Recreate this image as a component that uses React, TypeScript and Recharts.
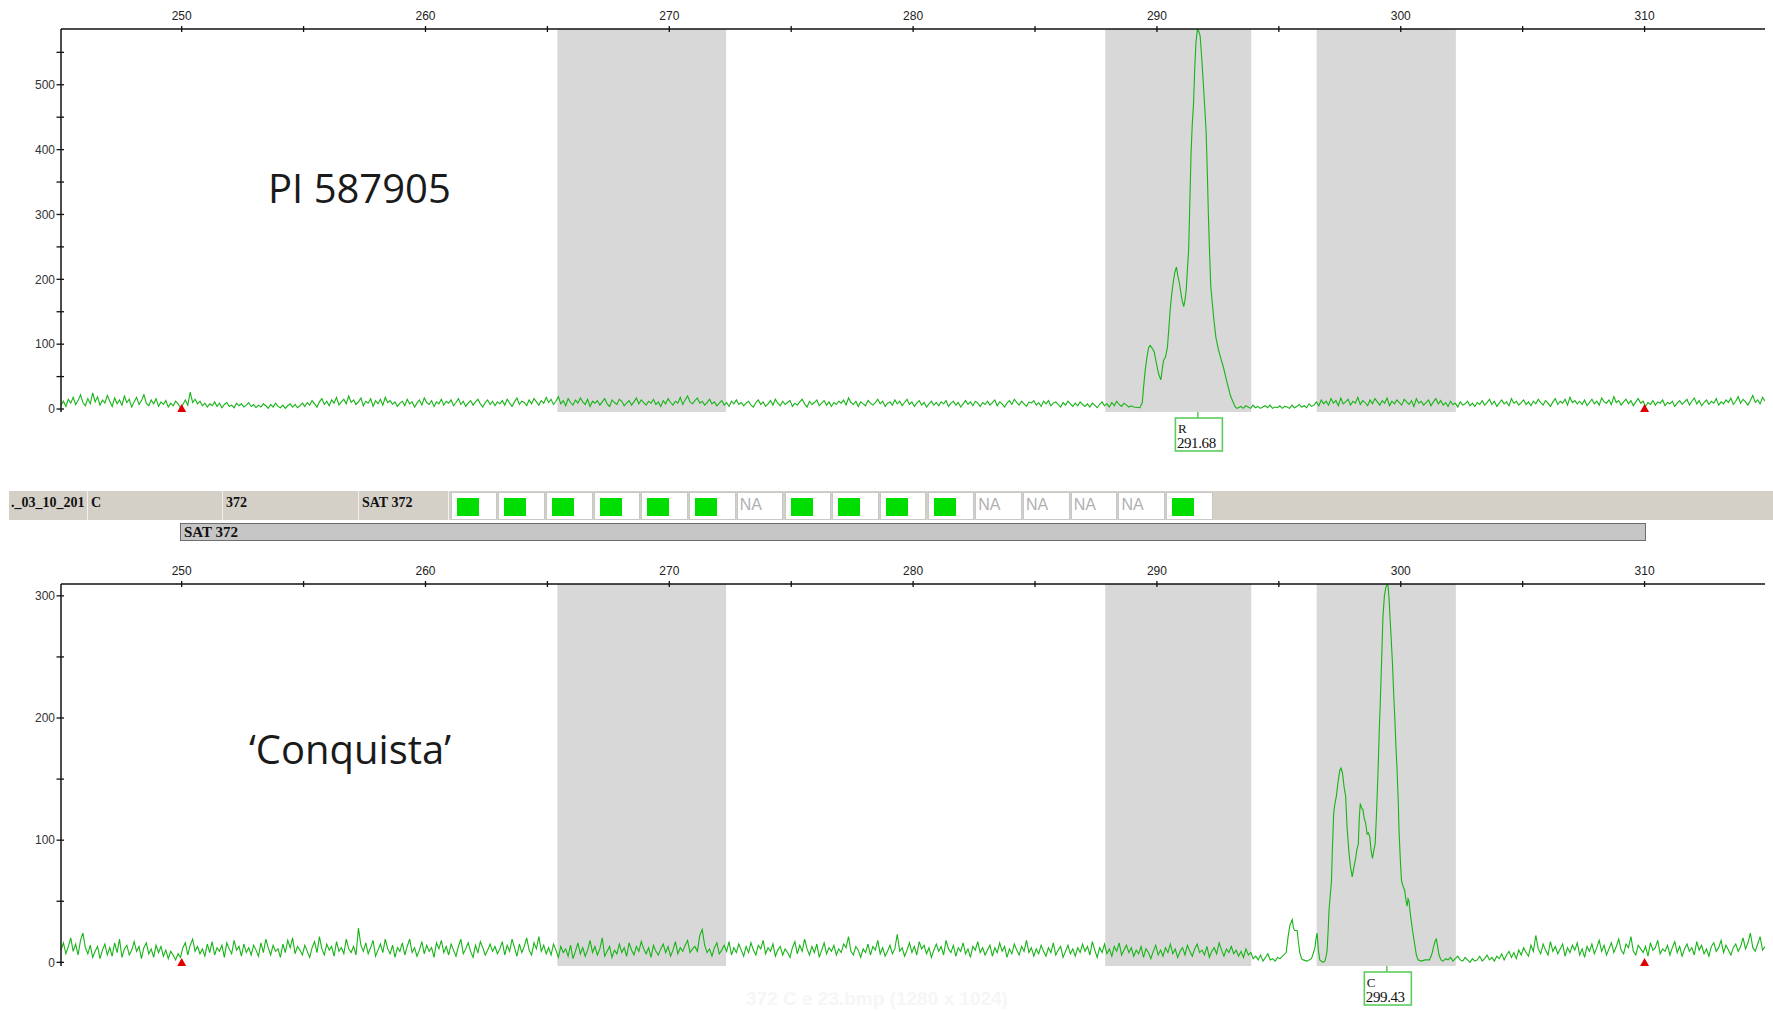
import React from 'react';
import { LineChart, Line, XAxis, YAxis, ReferenceArea, ReferenceDot } from 'recharts';

// ---------- data ----------
const X_MIN = 245.05;
const X_MAX = 314.94;
const STEP = 0.1;

const xTicks = [250, 255, 260, 265, 270, 275, 280, 285, 290, 295, 300, 305, 310];
const topYTicks = [0, 50, 100, 150, 200, 250, 300, 350, 400, 450, 500, 550];
const bottomYTicks = [0, 50, 100, 150, 200, 250, 300];
const TOP_Y_DOMAIN = [-4.6, 586];
const BOTTOM_Y_DOMAIN = [-3, 309.7];

const binBands = [
  [265.41, 272.33],
  [287.88, 293.87],
  [296.55, 302.26],
];
const sizeMarkers = [250, 310];

const topSample = 'PI 587905';
const bottomSample = '\u2018Conquista\u2019';
const topCall = { x: 291.68, allele: 'R', size: '291.68' };
const bottomCall = { x: 299.43, allele: 'C', size: '299.43' };

const stripLabels = ['._03_10_201', 'C', '372', 'SAT 372'];
const stripCalls = ['G', 'G', 'G', 'G', 'G', 'G', 'NA', 'G', 'G', 'G', 'G', 'NA', 'NA', 'NA', 'NA', 'G'];
const markerName = 'SAT 372';
const fileCaption = '372 C e 23.bmp (1280 x 1024)';

// top trace (PI 587905): baseline before the peak, every 0.1 from 245.05
const topNoiseA = [
  6, 12, 4, 15, 9, 18, 7, 13, 22, 10, 5, 16, 8, 25, 11, 19, 6, 14, 9, 21,
  12, 4, 17, 8, 14, 6, 20, 10, 15, 3, 11, 18, 7, 13, 22, 9, 5, 14, 8, 16,
  4, 11, 7, 13, 3, 9, 5, 12, 8, 2, 7, 14, 6, 26, 10, 15, 8, 12, 5, 9,
  3, 8, 5, 11, 4, 9, 2, 7, 10, 4, 6, 2, 9, 5, 8, 3, 6, 10, 4, 7,
  2, 6, 3, 8, 5, 1, 7, 3, 9, 4, 2, 6, 1, 5, 8, 3, 7, 2, 5, 9,
  4, 10, 6, 13, 8, 3, 11, 16, 7, 12, 5, 14, 9, 18, 6, 11, 15, 8, 20, 10,
  14, 7, 11, 17, 5, 12, 9, 16, 4, 13, 8, 15, 6, 18, 10, 13, 7, 11, 4, 9,
  12, 5, 15, 8, 11, 3, 9, 14, 6, 17, 10, 7, 13, 4, 11, 8, 15, 6, 12, 9,
  14, 5, 10, 16, 7, 12, 4, 9, 13, 6, 11, 15, 8, 3, 10, 14, 7, 12, 5, 11,
  8, 13, 6, 15, 9, 4, 11, 17, 7, 12, 10, 5, 14, 8, 16, 11, 6, 13, 9, 18,
  10, 15, 7, 12, 19, 8, 13, 5, 16, 10, 6, 14, 9, 17, 11, 7, 15, 4, 12, 9,
  13, 6, 11, 16, 8, 4, 14, 10, 7, 15, 12, 5, 9, 13, 6, 11, 17, 8, 14, 10,
  6, 12, 9, 15, 7, 11, 4, 13, 8, 16, 10, 6, 12, 9, 18, 7, 14, 20, 11, 8,
  13, 17, 9, 12, 6, 10, 15, 8, 11, 5, 9, 13, 6, 10, 4, 12, 8, 14, 7, 10,
  5, 9, 12, 6, 3, 10, 14, 7, 11, 4, 8, 13, 6, 15, 9, 5, 12, 7, 10, 13,
  4, 9, 6, 11, 15, 8, 3, 12, 7, 10, 14, 5, 9, 13, 6, 11, 4, 10, 7, 12,
  9, 14, 6, 17, 10, 7, 12, 4, 11, 8, 5, 13, 9, 6, 10, 15, 8, 12, 4, 9,
  11, 6, 14, 8, 12, 5, 10, 15, 7, 11, 4, 9, 13, 6, 10, 3, 8, 12, 6, 10,
  5, 11, 8, 13, 4, 9, 12, 6, 10, 3, 8, 13, 7, 11, 5, 12, 9, 4, 10, 7,
  12, 6, 10, 14, 5, 11, 8, 3, 9, 13, 7, 15, 10, 6, 12, 8, 4, 11, 9, 13,
  6, 10, 4, 12, 8, 13, 5, 9, 11, 7, 3, 10, 6, 12, 8, 4, 9, 5, 11, 7,
  4, 8, 3, 9, 6, 2, 7, 11, 5, 8, 3, 10, 5, 12, 7, 4, 9, 6, 3, 5,
  3,
];
const topPeak = [
  [289.3, 2], [289.4, 10], [289.45, 33], [289.52, 60], [289.59, 80], [289.66, 95], [289.72, 98],
  [289.8, 94], [289.89, 88], [289.98, 70], [290.07, 54], [290.16, 45], [290.22, 62], [290.27, 75],
  [290.35, 80], [290.43, 95], [290.5, 130], [290.54, 152], [290.6, 175], [290.66, 193], [290.73, 210],
  [290.8, 219], [290.86, 205], [290.93, 192], [291.02, 170], [291.1, 158], [291.15, 168], [291.2, 183],
  [291.25, 215], [291.3, 245], [291.35, 320], [291.4, 395], [291.45, 440], [291.5, 470], [291.55, 525],
  [291.6, 565], [291.66, 585], [291.72, 582], [291.77, 576], [291.84, 540], [291.91, 497], [291.97, 460],
  [292.02, 425], [292.07, 360], [292.11, 300], [292.16, 240], [292.21, 188], [292.28, 160], [292.34, 136],
  [292.42, 110], [292.52, 92], [292.62, 78], [292.73, 64], [292.83, 48], [292.93, 33], [293.02, 20],
  [293.11, 12], [293.2, 4], [293.28, 1],
];
// baseline after the peak, every 0.1 from 293.34
const topNoiseB = [
  2, 4, 1, 5, 3, 1, 6, 2, 4, 1, 3, 5, 2, 6, 1, 3, 2, 5, 1, 4,
  3, 1, 6, 2, 4, 7, 3, 5, 2, 8, 4, 6, 11, 5, 14, 8, 12, 6, 16, 9,
  13, 5, 17, 8, 11, 15, 6, 12, 9, 18, 7, 13, 10, 5, 14, 8, 16, 11, 6, 13,
  9, 17, 5, 12, 8, 14, 10, 6, 15, 11, 7, 13, 4, 16, 9, 12, 6, 10, 14, 5,
  11, 16, 8, 13, 6, 10, 4, 12, 7, 9, 3, 11, 6, 8, 12, 5, 9, 4, 10, 7,
  13, 6, 10, 15, 7, 12, 4, 9, 14, 8, 11, 5, 16, 9, 12, 6, 10, 14, 7, 11,
  5, 12, 8, 15, 10, 6, 13, 9, 4, 11, 16, 7, 12, 9, 15, 6, 18, 10, 13, 8,
  12, 7, 14, 5, 10, 15, 8, 12, 6, 17, 11, 9, 14, 7, 19, 10, 13, 6, 11, 15,
  8, 13, 5, 11, 16, 9, 12, 4, 10, 7, 13, 6, 11, 9, 14, 5, 10, 8, 12, 4,
  9, 13, 7, 11, 15, 6, 12, 17, 8, 13, 5, 10, 14, 7, 12, 9, 16, 6, 11, 8,
  14, 10, 17, 7, 12, 19, 9, 15, 11, 6, 13, 21, 10, 14, 8, 18, 12,
];

// bottom trace ('Conquista'): baseline before the peaks, every 0.1 from 245.05
const bottomNoiseA = [
  10, 16, 7, 13, 20, 9, 15, 6, 18, 24, 12, 7, 14, 4, 9, 13, 3, 10, 15, 6,
  12, 5, 16, 8, 19, 4, 11, 14, 6, 10, 17, 9, 13, 3, 12, 16, 7, 11, 4, 14,
  8, 13, 5, 10, 3, 9, 6, 2, 7, 4, 12, 16, 6, 14, 19, 9, 13, 7, 11, 5,
  15, 8, 17, 6, 12, 9, 14, 4, 16, 11, 7, 18, 10, 13, 5, 15, 8, 12, 6, 14,
  10, 5, 16, 8, 19, 12, 6, 14, 9, 11, 4, 15, 8, 18, 12, 20, 7, 13, 10, 6,
  14, 9, 4, 12, 17, 8, 21, 11, 6, 15, 10, 13, 5, 17, 9, 12, 7, 19, 11, 8,
  13, 6, 28, 14, 9, 16, 7, 12, 18, 5, 10, 15, 8, 19, 11, 7, 14, 4, 12, 9,
  16, 6, 13, 19, 8, 12, 5, 10, 17, 7, 14, 9, 12, 4, 16, 11, 18, 8, 13, 6,
  15, 10, 5, 13, 19, 7, 11, 16, 9, 4, 14, 8, 17, 12, 6, 10, 15, 9, 13, 7,
  11, 17, 6, 14, 9, 19, 12, 5, 15, 8, 13, 20, 10, 6, 16, 11, 21, 9, 14, 7,
  12, 6, 15, 10, 4, 13, 8, 11, 5, 14, 3, 9, 16, 7, 12, 5, 10, 18, 8, 13,
  6, 11, 20, 5, 9, 13, 4, 10, 7, 15, 8, 12, 5, 16, 10, 6, 13, 9, 17, 11,
  7, 12, 4, 14, 9, 6, 11, 15, 8, 13, 5, 10, 17, 7, 12, 9, 14, 18, 8, 11,
  13, 9, 22, 27, 14, 8, 11, 5, 12, 16, 7, 10, 14, 9, 17, 6, 12, 8, 15, 10,
  5, 13, 8, 16, 10, 6, 14, 11, 18, 7, 12, 9, 15, 5, 10, 13, 6, 11, 8, 4,
  12, 17, 7, 14, 9, 19, 11, 6, 13, 8, 15, 4, 10, 16, 7, 12, 9, 14, 6, 11,
  8, 15, 12, 21, 9, 6, 13, 10, 4, 11, 8, 15, 6, 13, 10, 18, 7, 12, 5, 9,
  14, 7, 11, 23, 9, 12, 5, 10, 16, 8, 13, 6, 17, 11, 14, 7, 12, 4, 10, 15,
  9, 13, 6, 18, 11, 8, 14, 5, 12, 9, 16, 7, 11, 4, 13, 10, 17, 8, 12, 6,
  10, 14, 5, 12, 8, 16, 9, 13, 4, 11, 7, 15, 10, 6, 13, 9, 18, 8, 12, 5,
  11, 7, 14, 9, 5, 12, 8, 16, 6, 10, 13, 4, 9, 14, 7, 11, 5, 12, 8, 15,
  9, 13, 6, 17, 10, 4, 12, 8, 15, 7, 11, 5, 13, 9, 16, 6, 10, 14, 8, 12,
  5, 10, 7, 13, 4, 11, 8, 3, 9, 14, 6, 10, 5, 12, 8, 15, 7, 11, 4, 9,
  12, 6, 14, 9, 5, 11, 15, 8, 10, 6, 13, 4, 9, 12, 7, 16, 10, 5, 11, 8,
  13, 7, 10, 5, 9, 4, 11, 6, 8, 3, 5, 2, 6, 1, 4, 7, 2, 3, 1, 4,
  3,
];
const bottomPeak = [
  [295.3, 8], [295.38, 21], [295.45, 30], [295.55, 35], [295.6, 28], [295.65, 26], [295.75, 26],
  [295.82, 14], [295.86, 8], [295.93, 3], [296.0, 2], [296.15, 1], [296.34, 3], [296.42, 8],
  [296.48, 12], [296.53, 20], [296.57, 24], [296.62, 10], [296.68, 2], [296.8, 0], [296.89, 1],
  [296.95, 6], [296.98, 10], [297.02, 25], [297.06, 43], [297.11, 55], [297.16, 67], [297.2, 95],
  [297.25, 122], [297.3, 130], [297.36, 136], [297.43, 148], [297.5, 157], [297.55, 159], [297.61, 155],
  [297.68, 143], [297.74, 136], [297.8, 110], [297.88, 89], [297.94, 78], [298.01, 70], [298.08, 78],
  [298.15, 85], [298.2, 92], [298.26, 97], [298.3, 118], [298.34, 130], [298.4, 126], [298.45, 125],
  [298.5, 118], [298.56, 114], [298.62, 105], [298.67, 106], [298.73, 103], [298.78, 92], [298.84, 85],
  [298.9, 92], [298.95, 97], [299.0, 119], [299.04, 140], [299.07, 157], [299.12, 190], [299.16, 212],
  [299.22, 250], [299.27, 283], [299.33, 300], [299.39, 307], [299.44, 309], [299.48, 308], [299.52, 298],
  [299.55, 286], [299.6, 268], [299.66, 245], [299.71, 220], [299.76, 198], [299.8, 178], [299.85, 157],
  [299.9, 130], [299.93, 108], [299.98, 85], [300.03, 67], [300.1, 62], [300.16, 59], [300.22, 50],
  [300.26, 46], [300.3, 52], [300.34, 50], [300.38, 42], [300.43, 34], [300.5, 24], [300.57, 15],
  [300.64, 6], [300.71, 2], [300.85, 1], [301.0, 2], [301.18, 2], [301.28, 7], [301.35, 13],
  [301.42, 18], [301.46, 19], [301.52, 12], [301.57, 6], [301.65, 2], [301.73, 1], [301.85, 3],
];
// baseline after the peaks, every 0.1 from 301.94
const bottomNoiseB = [
  2, 4, 1, 3, 5, 2, 1, 4, 2, 0, 3, 1, 2, 5, 1, 3, 6, 2, 4, 1,
  5, 3, 7, 2, 6, 9, 4, 8, 3, 10, 6, 12, 8, 5, 14, 9, 22, 11, 7, 15,
  10, 6, 17, 9, 13, 7, 11, 15, 5, 12, 8, 14, 10, 16, 6, 11, 4, 13, 9, 15,
  7, 12, 18, 9, 14, 6, 11, 16, 8, 13, 19, 10, 7, 15, 12, 21, 9, 6, 14, 11,
  8, 13, 5, 16, 10, 12, 18, 7, 11, 9, 14, 6, 12, 17, 8, 13, 5, 11, 15, 9,
  12, 6, 17, 10, 14, 7, 11, 5, 13, 16, 9, 12, 18, 8, 14, 10, 6, 12, 15, 9,
  13, 20, 11, 16, 24, 12, 9, 15, 21, 10, 13,
];

// ---------- build series ----------
const sampled = (start: number, vals: number[]) =>
  vals.map((v, i) => ({ x: Math.round((start + i * STEP) * 100) / 100, v }));
const pairs = (arr: number[][]) => arr.map(([x, v]) => ({ x, v }));

const topData = [...sampled(245.05, topNoiseA), ...pairs(topPeak), ...sampled(293.34, topNoiseB)];
const bottomData = [...sampled(245.05, bottomNoiseA), ...pairs(bottomPeak), ...sampled(301.94, bottomNoiseB)];

// ---------- style ----------
const TRACE = '#16b416';
const BAND = '#d8d8d8';
const TICK_FONT = "'Liberation Sans', Arial, sans-serif";
const SERIF = "'Liberation Serif', 'Times New Roman', serif";

const XTick = (props: any) => {
  const { x, y, payload } = props;
  const major = payload.value % 10 === 0;
  return (
    <g>
      <line x1={x} x2={x} y1={y - 3} y2={y + 3} stroke="#111" strokeWidth={1.3} />
      {major && (
        <text x={x} y={y - 13.5} dy="0.35em" textAnchor="middle" fontSize={12} fontFamily={TICK_FONT} fill="#222">
          {payload.value}
        </text>
      )}
    </g>
  );
};

const YTick = (props: any) => {
  const { x, y, payload } = props;
  const major = payload.value % 100 === 0;
  return (
    <g>
      <line x1={x - 4.5} x2={x + 3} y1={y} y2={y} stroke="#111" strokeWidth={1.3} />
      {major && (
        <text x={x - 6} y={y} dy="0.35em" textAnchor="end" fontSize={12} fontFamily={TICK_FONT} fill="#333">
          {payload.value}
        </text>
      )}
    </g>
  );
};

const Triangle = (props: any) => {
  const { cx, cy } = props;
  return <polygon points={`${cx - 4.5},${cy} ${cx + 4.5},${cy} ${cx},${cy - 8}`} fill="#e00000" />;
};

const callShape = (call: { allele: string; size: string }) => (props: any) => {
  const { cx, cy } = props;
  const left = cx - 22.5;
  const top = cy + 6;
  return (
    <g>
      <line x1={cx} x2={cx} y1={cy} y2={top} stroke="#44bb44" strokeWidth={1.3} />
      <rect x={left} y={top} width={47} height={33} fill="#fff" stroke="#5ccc5c" strokeWidth={1.6} />
      <text x={left + 2.5} y={top + 10} dy="0.35em" fontSize={13} fontFamily={SERIF} fill="#111">
        {call.allele}
      </text>
      <text x={left + 1.5} y={top + 25} dy="0.35em" fontSize={15} letterSpacing={-0.4} fontFamily={SERIF} fill="#111">
        {call.size}
      </text>
    </g>
  );
};

const Panel = ({ data, yDomain, yTicks, call, height, bottom }: any) => (
  <LineChart width={1773} height={height} data={data} margin={{ top: 0, right: 8, bottom, left: 0 }}>
    {binBands.map(([a, b], i) => (
      <ReferenceArea key={i} x1={a} x2={b} fill={BAND} fillOpacity={1} stroke="none" />
    ))}
    <XAxis
      dataKey="x"
      type="number"
      domain={[X_MIN, X_MAX]}
      orientation="top"
      height={29}
      ticks={xTicks}
      interval={0}
      tick={<XTick />}
      tickLine={false}
      tickSize={0}
      tickMargin={0}
      axisLine={{ stroke: '#111', strokeWidth: 1.5 }}
      allowDataOverflow
    />
    <XAxis
      xAxisId="base"
      dataKey="x"
      type="number"
      domain={[X_MIN, X_MAX]}
      orientation="bottom"
      height={0}
      tick={false}
      tickLine={false}
      axisLine={{ stroke: '#8a8a8a', strokeWidth: 2.6 }}
    />
    <YAxis
      type="number"
      domain={yDomain}
      width={61}
      ticks={yTicks}
      interval={0}
      tick={<YTick />}
      tickLine={false}
      tickSize={0}
      tickMargin={0}
      axisLine={{ stroke: '#111', strokeWidth: 1.5 }}
      allowDataOverflow
    />
    <YAxis
      yAxisId="edge"
      orientation="right"
      type="number"
      domain={[0, 1]}
      width={0}
      tick={false}
      tickLine={false}
      axisLine={{ stroke: '#111', strokeWidth: 1.5 }}
    />
    <Line dataKey="v" type="linear" stroke={TRACE} strokeWidth={1.1} dot={false} activeDot={false} isAnimationActive={false} />
    {sizeMarkers.map((m) => (
      <ReferenceDot key={m} x={m} y={yDomain[0]} r={4} shape={<Triangle />} ifOverflow="visible" />
    ))}
    <ReferenceDot x={call.x} y={yDomain[0]} r={3} shape={callShape(call)} ifOverflow="visible" />
  </LineChart>
);

const cellWidths = [79, 134, 135, 89];

export default function App() {
  let acc = 0;
  const cellLefts = cellWidths.map((w) => {
    const l = acc;
    acc += w + 1;
    return l;
  });
  return (
    <div style={{ position: 'absolute', left: 0, top: 0, width: 1773, height: 1011, background: '#fff', overflow: 'hidden' }}>
      <div style={{ position: 'absolute', left: 0, top: 0 }}>
        <Panel data={topData} yDomain={TOP_Y_DOMAIN} yTicks={topYTicks} call={topCall} height={460} bottom={48} />
      </div>
      <div style={{ position: 'absolute', left: 0, top: 555 }}>
        <Panel data={bottomData} yDomain={BOTTOM_Y_DOMAIN} yTicks={bottomYTicks} call={bottomCall} height={456} bottom={45} />
      </div>

      {/* sample names */}
      <div style={{ position: 'absolute', left: 268, top: 168, fontFamily: "'Open Sans', sans-serif", fontSize: 40, lineHeight: '40px', color: '#1a1a1a', whiteSpace: 'nowrap' }}>
        {topSample}
      </div>
      <div style={{ position: 'absolute', left: 249, top: 729, fontFamily: "'Open Sans', sans-serif", fontSize: 40, lineHeight: '40px', color: '#1a1a1a', whiteSpace: 'nowrap' }}>
        {bottomSample}
      </div>

      {/* genotype strip */}
      <div style={{ position: 'absolute', left: 9, top: 491, width: 1764, height: 29, background: '#d4d0c8' }}>
        {stripLabels.map((t, i) => (
          <div
            key={i}
            style={{
              position: 'absolute', left: cellLefts[i], top: 0, width: cellWidths[i], height: 29,
              borderRight: '1px solid #f2f0ec', boxSizing: 'border-box', overflow: 'hidden',
              fontFamily: SERIF, fontWeight: 'bold', fontSize: 14, lineHeight: '24px', paddingLeft: 2,
              color: '#111', whiteSpace: 'nowrap',
            }}
          >
            {t}
          </div>
        ))}
        {stripCalls.map((c, i) => (
          <div
            key={'c' + i}
            style={{
              position: 'absolute', left: 441.6 + i * 47.7, top: 1, width: 46.5, height: 28,
              background: '#fff', border: '1px solid #c8c8c8', boxSizing: 'border-box',
            }}
          >
            {c === 'NA' ? (
              <div style={{ position: 'absolute', left: 2, top: 3, fontFamily: TICK_FONT, fontSize: 16, color: '#b0b0b0', lineHeight: '17px' }}>NA</div>
            ) : (
              <div style={{ position: 'absolute', left: 5, top: 5, width: 22, height: 18, background: '#00dd00' }} />
            )}
          </div>
        ))}
      </div>
      <div
        style={{
          position: 'absolute', left: 180, top: 523, width: 1466, height: 18, background: '#c6c6c6',
          border: '1px solid #6e6e6e', boxSizing: 'border-box', fontFamily: SERIF, fontWeight: 'bold',
          fontSize: 15, lineHeight: '16px', paddingLeft: 3, color: '#111', whiteSpace: 'nowrap',
        }}
      >
        {markerName}
      </div>

      <div style={{ position: 'absolute', left: 746, top: 988, fontFamily: TICK_FONT, fontWeight: 'bold', fontSize: 19, color: '#f6f6f6', whiteSpace: 'nowrap' }}>
        {fileCaption}
      </div>
    </div>
  );
}
